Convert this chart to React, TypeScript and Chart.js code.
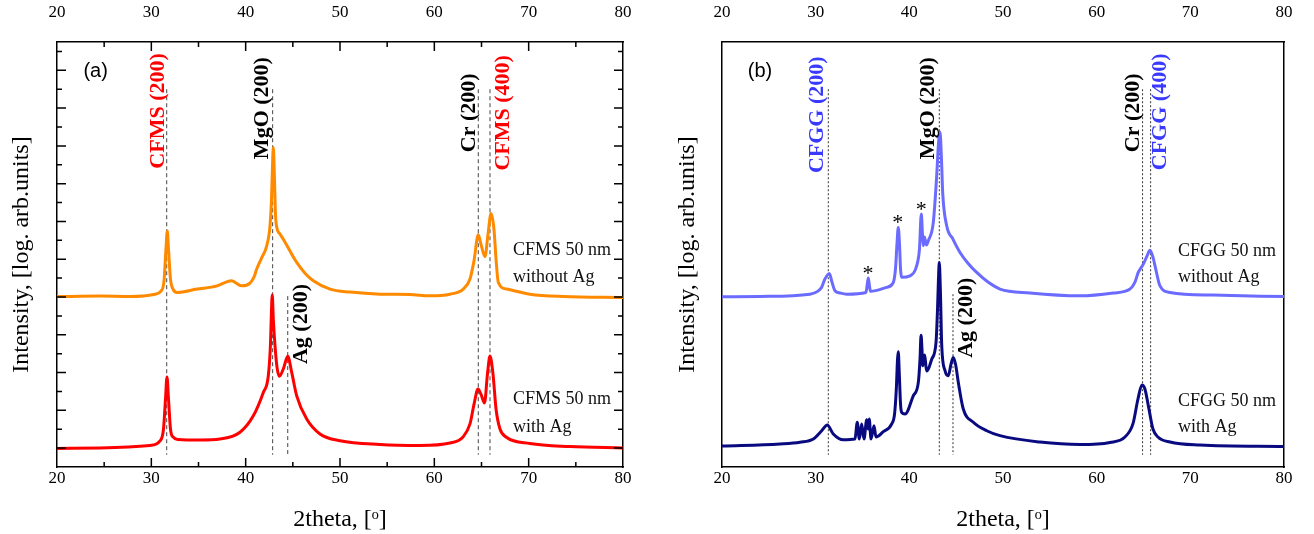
import React, { useEffect, useRef } from "react";
import { Chart, registerables } from "chart.js";

Chart.register(...registerables);

// ---------- axis ranges / ticks ----------
const X_MIN = 20;
const X_MAX = 80;
const X_STEP = 10;
const X_MINOR_STEP = 5;
const Y_MIN = 0;
const Y_MAX = 22.5;
const Y_TICK_VALUES = [1, 2, 3, 4, 5, 6, 7, 8, 9, 10, 11, 12, 13, 14, 15, 16, 17, 18, 19, 20, 21, 22];

// ---------- panel (a): CFMS ----------
const cfmsNoAgTheta = [20.0, 24.56, 27.74, 30.39, 31.02, 31.34, 31.55, 31.69, 31.82, 32.03, 32.3, 32.72, 34.84, 36.96, 37.92, 38.52, 38.98, 39.58, 40.46, 40.88, 41.17, 41.73, 42.23, 42.58, 42.74, 42.85, 42.93, 43.04, 43.16, 43.29, 43.64, 43.99, 44.7, 45.41, 46.29, 47.17, 48.94, 51.06, 54.24, 57.42, 59.54, 61.66, 63.07, 63.78, 64.2, 64.66, 64.94, 65.37, 65.69, 66.01, 66.32, 66.54, 66.78, 67.67, 70.14, 73.67, 80.0];
const cfmsNoAgLogI = [9.02, 9.05, 9.03, 9.15, 9.31, 9.84, 11.53, 12.5, 11.53, 9.95, 9.42, 9.24, 9.42, 9.59, 9.79, 9.86, 9.74, 9.59, 9.74, 10.05, 10.48, 11.11, 11.71, 12.77, 14.18, 16.03, 16.92, 15.5, 13.39, 12.7, 12.33, 12.06, 11.43, 10.83, 10.26, 9.86, 9.42, 9.26, 9.15, 9.13, 9.06, 9.15, 9.42, 9.95, 10.9, 12.29, 11.8, 11.13, 12.33, 13.42, 12.59, 11.01, 9.77, 9.42, 9.15, 9.03, 8.98];

const cfmsAgTheta = [20, 24.56, 29.86, 30.92, 31.29, 31.5, 31.66, 31.82, 32.03, 32.3, 32.83, 35.16, 37.28, 39.4, 40.81, 41.87, 42.4, 42.63, 42.74, 42.82, 42.93, 43.11, 43.32, 43.57, 43.99, 44.46, 44.88, 45.41, 46.47, 47.88, 50.0, 54.24, 58.48, 61.66, 63.04, 63.78, 64.21, 64.63, 64.94, 65.32, 65.63, 65.9, 66.22, 66.54, 66.96, 67.6, 70.14, 74.38, 80.0];
const cfmsAgLogI = [0.98, 1.01, 1.14, 1.38, 2.01, 3.6, 4.76, 3.6, 2.01, 1.59, 1.46, 1.43, 1.48, 1.84, 2.71, 3.95, 4.83, 6.51, 8.36, 9.1, 7.83, 6.42, 5.29, 4.8, 5.19, 5.86, 5.01, 3.77, 2.54, 1.75, 1.39, 1.19, 1.14, 1.27, 1.59, 2.28, 3.33, 4.13, 3.86, 3.39, 4.92, 5.87, 4.92, 3.07, 2.01, 1.59, 1.24, 1.08, 1.01];

const cfmsRefTheta = [31.63, 42.86, 44.46, 64.66, 65.9];
const cfmsRefTop = [20.0, 20.0, 9.05, 20.0, 20.0];

// ---------- panel (b): CFGG ----------
const cfggNoAgTheta = [20, 24.06, 29.39, 30.25, 30.64, 30.99, 31.46, 31.74, 32.06, 32.6, 33.31, 35.37, 35.51, 35.62, 35.72, 35.85, 37.58, 38.26, 38.52, 38.68, 38.82, 38.95, 39.06, 39.18, 40.07, 40.78, 41.08, 41.28, 41.4, 41.49, 41.6, 41.67, 41.83, 42.02, 42.56, 42.92, 43.11, 43.27, 43.43, 43.56, 43.99, 44.66, 45.41, 46.26, 47.19, 48.4, 49.68, 52.88, 58.22, 61.77, 63.56, 64.09, 64.44, 64.98, 65.37, 65.69, 66.01, 66.23, 66.76, 67.83, 72.42, 80];
const cfggNoAgLogI = [9.01, 9.03, 9.15, 9.31, 9.52, 9.95, 10.25, 9.79, 9.33, 9.21, 9.15, 9.24, 9.68, 10.0, 9.68, 9.3, 9.51, 9.74, 10.48, 11.8, 12.68, 11.8, 10.48, 10.04, 10.12, 10.65, 11.53, 13.39, 12.33, 11.71, 12.17, 12.06, 11.75, 11.97, 12.95, 15.41, 17.09, 17.74, 16.3, 14.53, 12.77, 12.06, 11.36, 10.79, 10.3, 9.79, 9.42, 9.21, 9.06, 9.21, 9.42, 9.79, 10.3, 10.74, 11.16, 11.48, 11.11, 10.65, 9.59, 9.24, 9.1, 9.02];

const cfggAgTheta = [20, 26.19, 28.33, 29.75, 30.64, 31.24, 31.88, 32.95, 34.2, 34.44, 34.66, 34.91, 35.16, 35.45, 35.59, 35.72, 35.91, 36.23, 36.44, 37.22, 38.12, 38.42, 38.61, 38.74, 38.82, 38.93, 39.06, 39.18, 39.54, 40.42, 40.96, 41.14, 41.25, 41.35, 41.43, 41.57, 41.64, 41.78, 41.88, 42.39, 42.85, 43.01, 43.11, 43.2, 43.31, 43.46, 43.81, 44.16, 44.45, 44.69, 44.93, 45.23, 45.76, 46.83, 48.26, 49.68, 53.95, 58.22, 61.42, 63.02, 63.87, 64.41, 64.83, 65.15, 65.58, 66.01, 66.54, 67.83, 71.03, 80];
const cfggAgLogI = [1.11, 1.22, 1.31, 1.48, 1.92, 2.22, 1.75, 1.44, 1.48, 2.37, 1.48, 2.28, 1.48, 2.5, 2.01, 2.54, 1.48, 2.19, 1.59, 1.87, 2.28, 2.8, 4.13, 5.71, 6.1, 4.92, 3.33, 2.89, 2.8, 3.77, 4.48, 5.71, 6.98, 6.24, 5.36, 5.82, 5.93, 5.29, 5.08, 5.71, 6.6, 8.36, 9.95, 10.83, 9.42, 6.42, 5.1, 4.83, 5.45, 5.8, 5.45, 4.48, 3.07, 2.37, 1.92, 1.66, 1.32, 1.19, 1.3, 1.59, 2.28, 3.6, 4.34, 4.13, 3.07, 2.01, 1.59, 1.32, 1.16, 1.08];

const cfggRefTheta = [31.35, 43.2, 44.66, 64.9, 65.76];
const cfggRefTop = [20.0, 20.0, 9.15, 20.0, 20.0];
const REF_BOTTOM = 0.65;

// ---------- text labels ----------
type Label = { text: string; x: number; y: number; color: string; font: string; rot?: boolean; align?: CanvasTextAlign };
const BOLD = "bold 22px 'Liberation Serif'";
const REG = "18px 'Liberation Serif'";
const SANS = "20px 'Liberation Sans'";
const STAR = "22px 'Liberation Serif'";

const labelsA: Label[] = [
  { text: "(a)", x: 24.1, y: 20.95, color: "#000", font: SANS },
  { text: "CFMS (200)", x: 30.7, y: 18.85, color: "#ff0000", font: BOLD, rot: true },
  { text: "MgO (200)", x: 41.75, y: 19.0, color: "#000", font: BOLD, rot: true },
  { text: "Cr (200)", x: 63.75, y: 18.75, color: "#000", font: BOLD, rot: true },
  { text: "CFMS (400)", x: 67.35, y: 18.75, color: "#ff0000", font: BOLD, rot: true },
  { text: "Ag (200)", x: 45.95, y: 7.57, color: "#000", font: BOLD, rot: true },
  { text: "CFMS 50 nm", x: 68.34, y: 11.5, color: "#111", font: REG, align: "left" },
  { text: "without Ag", x: 68.34, y: 10.05, color: "#111", font: REG, align: "left" },
  { text: "CFMS 50 nm", x: 68.34, y: 3.6, color: "#111", font: REG, align: "left" },
  { text: "with Ag", x: 68.34, y: 2.12, color: "#111", font: REG, align: "left" },
];

const labelsB: Label[] = [
  { text: "(b)", x: 24.06, y: 20.95, color: "#000", font: SANS },
  { text: "CFGG (200)", x: 30.2, y: 18.65, color: "#3a3aff", font: BOLD, rot: true },
  { text: "MgO (200)", x: 42.05, y: 19.0, color: "#000", font: BOLD, rot: true },
  { text: "Cr (200)", x: 63.95, y: 18.75, color: "#000", font: BOLD, rot: true },
  { text: "CFGG (400)", x: 66.8, y: 18.8, color: "#3a3aff", font: BOLD, rot: true },
  { text: "Ag (200)", x: 46.1, y: 7.9, color: "#000", font: BOLD, rot: true },
  { text: "*", x: 35.59, y: 10.2, color: "#000", font: STAR },
  { text: "*", x: 38.76, y: 12.9, color: "#000", font: STAR },
  { text: "*", x: 41.28, y: 13.6, color: "#000", font: STAR },
  { text: "CFGG 50 nm", x: 68.68, y: 11.43, color: "#111", font: REG, align: "left" },
  { text: "without Ag", x: 68.68, y: 10.05, color: "#111", font: REG, align: "left" },
  { text: "CFGG 50 nm", x: 68.68, y: 3.5, color: "#111", font: REG, align: "left" },
  { text: "with Ag", x: 68.68, y: 2.12, color: "#111", font: REG, align: "left" },
];

// ---------- plugins ----------
const inwardTicks = {
  id: "inwardTicks",
  afterDatasetsDraw(chart: any, _args: any, opts: any) {
    if (!opts || !opts.enabled) return;
    const { ctx, chartArea } = chart;
    const { left, right, top, bottom } = chartArea;
    const xs = chart.scales.x;
    const ys = chart.scales.y;
    ctx.save();
    ctx.strokeStyle = "#000";
    ctx.lineWidth = 1.5;
    ctx.beginPath();
    for (let v = X_MIN + X_MINOR_STEP; v < X_MAX; v += X_MINOR_STEP) {
      const px = xs.getPixelForValue(v);
      const len = v % X_STEP === 0 ? 9 : 5;
      ctx.moveTo(px, bottom);
      ctx.lineTo(px, bottom - len);
      ctx.moveTo(px, top);
      ctx.lineTo(px, top + len);
    }
    for (const v of Y_TICK_VALUES) {
      const py = ys.getPixelForValue(v);
      const len = v % 2 === 1 ? 9 : 5;
      ctx.moveTo(left, py);
      ctx.lineTo(left + len, py);
      ctx.moveTo(right, py);
      ctx.lineTo(right - len, py);
    }
    ctx.stroke();
    ctx.restore();
  },
};

const textLabels = {
  id: "textLabels",
  afterDatasetsDraw(chart: any, _args: any, opts: any) {
    const items: Label[] = (opts && opts.items) || [];
    const { ctx } = chart;
    const xs = chart.scales.x;
    const ys = chart.scales.y;
    ctx.save();
    for (const it of items) {
      const px = xs.getPixelForValue(it.x);
      const py = ys.getPixelForValue(it.y);
      ctx.font = it.font;
      ctx.fillStyle = it.color;
      ctx.textBaseline = "middle";
      ctx.textAlign = it.align || "center";
      if (it.rot) {
        ctx.save();
        ctx.translate(px, py);
        ctx.rotate(-Math.PI / 2);
        ctx.fillText(it.text, 0, 0);
        ctx.restore();
      } else {
        ctx.fillText(it.text, px, py);
      }
    }
    ctx.restore();
  },
};

// ---------- config ----------
const zip = (xs: number[], ys: number[]) => xs.map((x, i) => ({ x, y: ys[i] }));

type PanelSpec = {
  width: number;
  areaLeft: number;
  areaRight: number;
  areaTop: number;
  areaBottom: number;
  yTitlePad: number;
  ticks: boolean;
  upper: { x: number[]; y: number[]; color: string };
  lower: { x: number[]; y: number[]; color: string };
  refX: number[];
  refTop: number[];
  refDash: number[];
  refColor: string;
  labels: Label[];
};

function buildConfig(p: PanelSpec): any {
  const serif = "'Liberation Serif'";
  const refSets = p.refX.map((x, i) => ({
    data: [
      { x, y: p.refTop[i] },
      { x, y: REF_BOTTOM },
    ],
    borderColor: p.refColor,
    borderWidth: 1,
    borderDash: p.refDash,
    pointRadius: 0,
    order: 2,
  }));
  const curve = (c: { x: number[]; y: number[]; color: string }) => ({
    data: zip(c.x, c.y),
    borderColor: c.color,
    borderWidth: 3,
    pointRadius: 0,
    cubicInterpolationMode: "monotone",
    order: 0,
  });
  const border = { display: true, color: "#000", width: 1.5 };
  const tickFont = { family: serif, size: 17 };
  return {
    type: "line",
    data: { datasets: [...refSets, curve(p.upper), curve(p.lower)] },
    options: {
      responsive: false,
      animation: false,
      events: [],
      layout: { padding: 0 },
      plugins: {
        legend: { display: false },
        tooltip: { enabled: false },
        inwardTicks: { enabled: p.ticks },
        textLabels: { items: p.labels },
      },
      scales: {
        x: {
          type: "linear",
          position: "bottom",
          min: X_MIN,
          max: X_MAX,
          ticks: { stepSize: X_STEP, font: tickFont, color: "#000", padding: 1, maxRotation: 0 },
          grid: { display: false, drawTicks: false },
          border,
          title: {
            display: true,
            text: "2theta, [ᵒ]",
            font: { family: serif, size: 24 },
            color: "#000",
            padding: { top: 0, bottom: 0 },
          },
          afterFit: (s: any) => {
            s.height = 534 - p.areaBottom;
          },
        },
        xTop: {
          type: "linear",
          position: "top",
          min: X_MIN,
          max: X_MAX,
          ticks: { stepSize: X_STEP, font: tickFont, color: "#000", padding: 19, maxRotation: 0 },
          grid: { display: false, drawTicks: false },
          border,
          afterFit: (s: any) => {
            s.height = p.areaTop;
          },
        },
        y: {
          type: "linear",
          position: "left",
          min: Y_MIN,
          max: Y_MAX,
          ticks: { display: false },
          grid: { display: false, drawTicks: false },
          border,
          title: {
            display: true,
            text: "Intensity, [log. arb.units]",
            font: { family: serif, size: 24 },
            color: "#000",
            padding: { top: p.yTitlePad, bottom: 0 },
          },
          afterFit: (s: any) => {
            s.width = p.areaLeft;
          },
        },
        yRight: {
          type: "linear",
          position: "right",
          min: Y_MIN,
          max: Y_MAX,
          ticks: { display: false },
          grid: { display: false, drawTicks: false },
          border,
          afterFit: (s: any) => {
            s.width = p.width - p.areaRight;
          },
        },
      },
    },
    plugins: [inwardTicks, textLabels],
  };
}

const panelA: PanelSpec = {
  width: 660,
  areaLeft: 57,
  areaRight: 623,
  areaTop: 42,
  areaBottom: 467,
  yTitlePad: 7,
  ticks: true,
  upper: { x: cfmsNoAgTheta, y: cfmsNoAgLogI, color: "#ff8a00" },
  lower: { x: cfmsAgTheta, y: cfmsAgLogI, color: "#ff0000" },
  refX: cfmsRefTheta,
  refTop: cfmsRefTop,
  refDash: [4, 3],
  refColor: "#444",
  labels: labelsA,
};

const panelB: PanelSpec = {
  width: 654,
  areaLeft: 62,
  areaRight: 624,
  areaTop: 42,
  areaBottom: 467,
  yTitlePad: 13,
  ticks: false,
  upper: { x: cfggNoAgTheta, y: cfggNoAgLogI, color: "#6b6bff" },
  lower: { x: cfggAgTheta, y: cfggAgLogI, color: "#0a0a80" },
  refX: cfggRefTheta,
  refTop: cfggRefTop,
  refDash: [2, 2],
  refColor: "#333",
  labels: labelsB,
};

function Panel({ spec, left }: { spec: PanelSpec; left: number }) {
  const ref = useRef<HTMLCanvasElement>(null);
  useEffect(() => {
    if (!ref.current) return;
    const chart = new Chart(ref.current, buildConfig(spec));
    return () => chart.destroy();
  }, [spec]);
  return (
    <canvas
      ref={ref}
      width={spec.width}
      height={534}
      style={{ position: "absolute", left, top: 0, width: spec.width, height: 534 }}
    />
  );
}

export default function App() {
  return (
    <div style={{ position: "absolute", left: 0, top: 0, width: 1314, height: 534, background: "#fff", overflow: "hidden" }}>
      <Panel spec={panelA} left={0} />
      <Panel spec={panelB} left={660} />
    </div>
  );
}
